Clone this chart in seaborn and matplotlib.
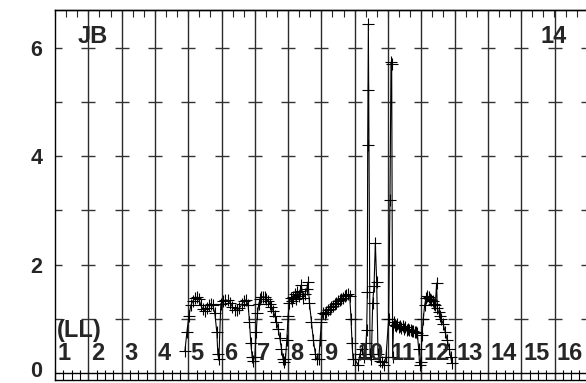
import numpy as np
import pandas as pd
import matplotlib
matplotlib.use("Agg")
import matplotlib.pyplot as plt
import matplotlib.transforms as mtransforms
from matplotlib.ticker import MultipleLocator, FixedLocator
import seaborn as sns

# ---- data (x in panel units, y values) ----
seg_a_x = [3.90, 3.96, 4.02, 4.08, 4.14, 4.20, 4.26, 4.32, 4.38, 4.44, 4.50, 4.56, 4.62, 4.68, 4.74, 4.80, 4.86, 4.89, 4.92]
seg_a_y = [0.40, 0.75, 1.05, 1.25, 1.33, 1.38, 1.40, 1.36, 1.25, 1.18, 1.15, 1.20, 1.26, 1.28, 1.25, 1.10, 0.75, 0.35, 0.25]
seg_b_x = [4.98, 5.05, 5.12, 5.19, 5.26, 5.33, 5.40, 5.47, 5.54, 5.61, 5.68, 5.74, 5.80, 5.84, 5.88, 5.92, 5.95]
seg_b_y = [1.28, 1.32, 1.35, 1.34, 1.30, 1.22, 1.17, 1.16, 1.20, 1.27, 1.33, 1.35, 1.25, 0.95, 0.55, 0.30, 0.22]
seg_c_x = [6.00, 6.04, 6.08, 6.12, 6.16, 6.20, 6.25, 6.30, 6.35, 6.40, 6.45, 6.50, 6.55, 6.60, 6.65, 6.70, 6.75, 6.80, 6.85, 6.88]
seg_c_y = [0.30, 0.75, 1.10, 1.28, 1.36, 1.40, 1.41, 1.40, 1.37, 1.33, 1.28, 1.22, 1.15, 1.06, 0.95, 0.82, 0.65, 0.45, 0.25, 0.20]
seg_d_x = [6.92, 6.96, 7.00, 7.04, 7.08, 7.12, 7.16, 7.20, 7.24, 7.28, 7.32, 7.36, 7.40, 7.44, 7.50, 7.56, 7.60, 7.64, 7.70, 7.76, 7.82, 7.86]
seg_d_y = [0.25, 0.60, 1.05, 1.30, 1.38, 1.32, 1.40, 1.45, 1.36, 1.50, 1.42, 1.52, 1.62, 1.38, 1.45, 1.55, 1.68, 1.30, 0.95, 0.60, 0.35, 0.25]
seg_e_x = [7.92, 7.96, 8.00, 8.05, 8.10, 8.15, 8.20, 8.25, 8.30, 8.35, 8.40, 8.45, 8.50, 8.55, 8.60, 8.65, 8.70, 8.75, 8.80, 8.85, 8.89, 8.92, 8.95]
seg_e_y = [0.25, 0.60, 0.95, 1.10, 1.08, 1.12, 1.16, 1.18, 1.22, 1.24, 1.27, 1.29, 1.32, 1.34, 1.37, 1.39, 1.42, 1.44, 1.45, 1.42, 1.00, 0.55, 0.25]
seg_f_x = [9.01, 9.10, 9.16, 9.22, 9.28, 9.34, 9.36, 9.38, 9.39, 9.40, 9.41, 9.46, 9.50, 9.54, 9.58, 9.62, 9.66, 9.70, 9.76, 9.82, 9.88, 9.94, 10.02, 10.06, 10.09, 10.11, 10.14]
seg_f_y = [0.25, 0.15, 0.35, 0.45, 0.30, 0.55, 0.80, 1.50, 4.20, 5.22, 6.44, 0.35, 0.25, 1.30, 1.60, 2.40, 1.68, 0.35, 0.22, 0.20, 0.15, 0.30, 1.00, 3.20, 5.74, 5.70, 0.30]
seg_g_x = [10.17, 10.20, 10.24, 10.28, 10.32, 10.36, 10.40, 10.44, 10.48, 10.52, 10.56, 10.60, 10.64, 10.68, 10.72, 10.76, 10.80, 10.84, 10.88, 10.92, 10.95]
seg_g_y = [0.95, 0.88, 0.86, 0.90, 0.85, 0.87, 0.83, 0.86, 0.82, 0.84, 0.80, 0.82, 0.79, 0.80, 0.77, 0.78, 0.75, 0.76, 0.74, 0.45, 0.15]
seg_h_x = [10.98, 11.02, 11.06, 11.10, 11.14, 11.18, 11.22, 11.26, 11.30, 11.34, 11.38, 11.42, 11.46, 11.48, 11.52, 11.56, 11.60, 11.66, 11.72, 11.78, 11.84, 11.88, 11.92]
seg_h_y = [0.20, 0.70, 1.00, 1.25, 1.38, 1.42, 1.40, 1.37, 1.34, 1.32, 1.28, 1.25, 1.66, 1.20, 1.12, 1.05, 1.00, 0.90, 0.75, 0.60, 0.45, 0.30, 0.18]

panel_labels = [str(i) for i in range(1, 17)]
y_tick_values = [0, 2, 4, 6]
corner_left = "JB"
corner_right = "14"
side_label = "(LL)"

xs = seg_a_x + seg_b_x + seg_c_x + seg_d_x + seg_e_x + seg_f_x + seg_g_x + seg_h_x
ys = seg_a_y + seg_b_y + seg_c_y + seg_d_y + seg_e_y + seg_f_y + seg_g_y + seg_h_y
df = pd.DataFrame({"x": xs, "y": ys, "order": range(len(xs))})

sns.set_style("white")
plt.rcParams["font.family"] = ["Liberation Sans", "DejaVu Sans"]

W, H = 586, 383
fig = plt.figure(figsize=(W / 100, H / 100), dpi=100)
left_px, right_px, top_px, bot_px = 55, 55 + 16 * 33.3, 10, 380
ax = fig.add_axes([left_px / W, 1 - bot_px / H, (right_px - left_px) / W, (bot_px - top_px) / H])

y0_px = 373
unit = 54.17
ax.set_xlim(0, 16)
ax.set_ylim(-(bot_px - y0_px) / unit, (y0_px - top_px) / unit)

# vertical panel lines
for k in range(1, 17):
    ax.axvline(k, color="#2a2a2a", lw=1.0, zorder=1)
ax.axhline(0, color="black", lw=1.0, zorder=1)

# grid crosses
gx, gy = np.meshgrid(np.arange(0, 17), np.arange(1, 7))
ax.plot(gx.ravel(), gy.ravel(), ls="none", marker="_", ms=9.5, mew=1.0, color="#333333", zorder=1)

# data
sns.lineplot(data=df, x="x", y="y", sort=False, estimator=None, ax=ax,
             color="black", lw=0.8, marker="+", markersize=9, markeredgewidth=0.8,
             markeredgecolor="black", legend=False, zorder=3)

# axes decoration
for s in ["left", "top", "bottom"]:
    ax.spines[s].set_color("black")
    ax.spines[s].set_linewidth(1.0)
ax.spines["right"].set_visible(False)
ax.set_xlabel("")
ax.set_ylabel("")
ax.xaxis.set_major_locator(MultipleLocator(0.25))
ax.tick_params(axis="x", which="both", direction="in", length=7, width=0.8, color="black",
               labelbottom=False, bottom=True, top=False)
sec = ax.secondary_xaxis("top")
sec.xaxis.set_major_locator(MultipleLocator(1 / 3))
sec.tick_params(axis="x", direction="in", length=5, width=0.8, labeltop=False)
sec.spines["top"].set_linewidth(1.0)

ax.yaxis.set_major_locator(FixedLocator(y_tick_values))
ax.set_yticklabels([str(v) for v in y_tick_values])
ax.tick_params(axis="y", length=0, pad=9, labelsize=15.5)
for t in ax.get_yticklabels():
    t.set_fontweight("bold")
# keep the bottom "0" label fully inside the canvas
zero_lbl = ax.get_yticklabels()[0]
zero_lbl.set_transform(zero_lbl.get_transform() +
                       mtransforms.ScaledTranslation(0, 3 / 72, fig.dpi_scale_trans))

# panel labels
for i, lab in enumerate(panel_labels):
    ax.text(i + 0.07, (y0_px - 360) / unit, lab, fontsize=17, fontweight="bold",
            ha="left", va="baseline", zorder=4)
ax.text(0.07, (y0_px - 337) / unit, side_label, fontsize=17, fontweight="bold",
        ha="left", va="baseline", zorder=4)
ax.text((78 - left_px) / 33.3, (y0_px - 43) / unit, corner_left, fontsize=17, fontweight="bold",
        ha="left", va="baseline", zorder=4)
ax.text((540 - left_px) / 33.3, (y0_px - 43) / unit, corner_right, fontsize=17, fontweight="bold",
        ha="left", va="baseline", zorder=4)

fig.savefig("out.png", dpi=100)
